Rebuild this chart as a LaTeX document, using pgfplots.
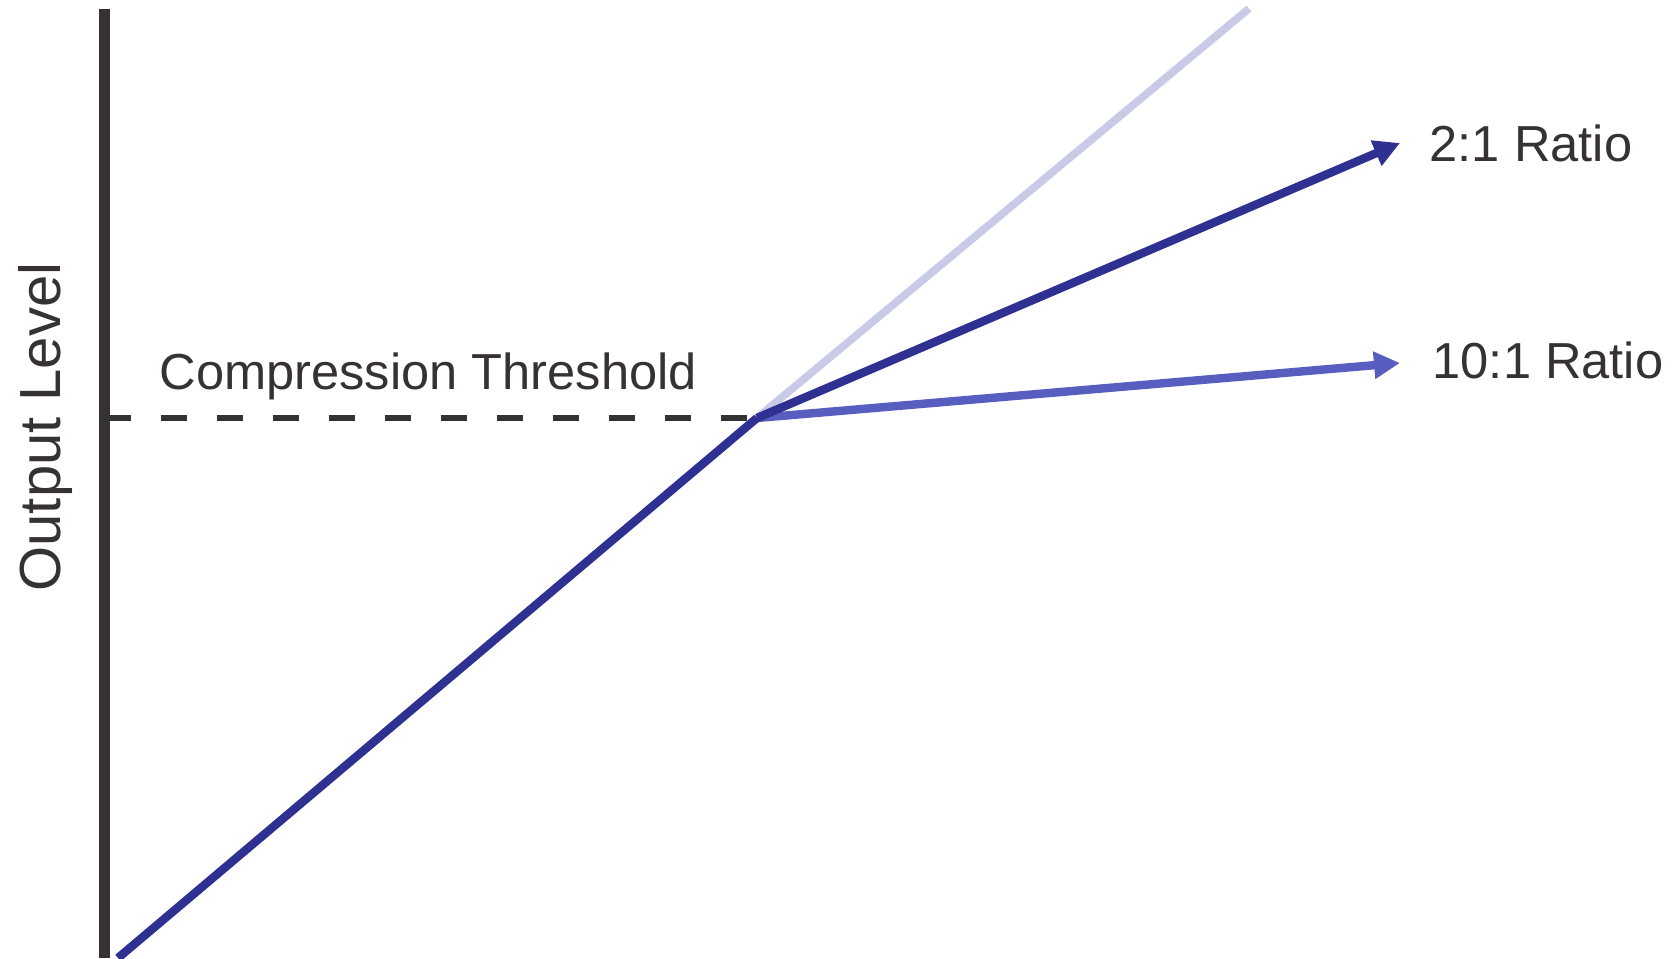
\documentclass[border=0pt]{standalone}
\usepackage{pgfplots}
\pgfplotsset{compat=1.18}
\usepackage{fontspec}
\setmainfont{Liberation Sans}
\usetikzlibrary{arrows.meta}
\definecolor{axisgray}{RGB}{55,50,50}
\definecolor{mainblue}{RGB}{46,49,146}
\definecolor{tenblue}{RGB}{88,94,192}
\definecolor{fadeblue}{RGB}{200,202,232}
\tikzset{lbl/.style={inner sep=0pt, text=axisgray, font=\fontsize{14.4}{18}\selectfont}}
\begin{document}
\begin{tikzpicture}
\path[use as bounding box] (0,0) rectangle (168mm,95.8mm);
\begin{axis}[
    at={(10.45mm,0mm)}, anchor=south west,
    scale only axis, width=157.55mm, height=94.94mm,
    xmin=104.5, xmax=1680, ymin=0, ymax=949.4,
    axis x line=none, axis y line=left,
    y axis line style={-, line width=3.2pt, axisgray},
    xtick=\empty, ytick=\empty,
    clip=false
    ]
% faded 1:1 continuation
\addplot[fadeblue, line width=2.2pt] coordinates {(757,540) (1249,949.4)};
% threshold
\addplot[black!80, line width=1.7pt, dash pattern=on 2.6mm off 3.0mm] coordinates {(104.5,540) (757,540)};
% 10:1
\addplot[tenblue, line width=2.4pt, -{Triangle[length=2.6mm,width=2.6mm]}] coordinates {(757,540) (1400,595)};
% 2:1
\addplot[mainblue, line width=2.4pt, -{Triangle[length=2.6mm,width=2.6mm]}] coordinates {(757,540) (1400,815)};
% below threshold
\addplot[mainblue, line width=2.4pt] coordinates {(118,0) (757,540)};
\node[lbl, anchor=base west] at (axis cs:159,568) {Compression Threshold};
\node[lbl, anchor=base west] at (axis cs:1429,796) {2:1 Ratio};
\node[lbl, anchor=base west] at (axis cs:1432,579) {10:1 Ratio};
\node[lbl, anchor=base, rotate=90, font=\fontsize{16.5}{20}\selectfont] at (axis cs:61,531) {Output Level};
\end{axis}
\end{tikzpicture}
\end{document}
